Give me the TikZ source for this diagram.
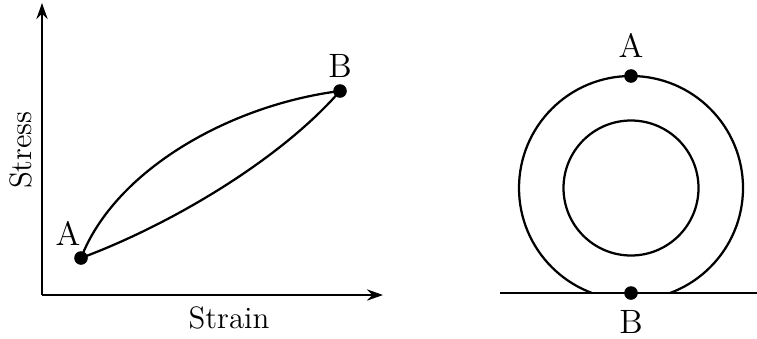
\documentclass[tikz,border=0pt]{standalone}
\usepackage{tikz}
\usetikzlibrary{
    arrows.meta,
    positioning
}

\begin{document}
\begin{tikzpicture}[
        x=0.0125cm,
        y=-0.0125cm,
        dot/.style={
            circle,
            fill,
            inner sep=0pt,
            minimum size=0.17cm
        },
        label/.style={
            font=\large
        },
        axislabel/.style={
            font=\fontsize{11}{13}\selectfont
        },
        axis/.style={
            -{Stealth[length=2mm, width=1.4mm]},
            thick
        },
        curve/.style={
            thick
        }
    ]

    \useasboundingbox (0,0) rectangle (757,338);

    % stress-strain loop
    \coordinate (origin) at (42,295);
    \coordinate (yend) at (42,3);
    \coordinate (xend) at (383,295);
    \draw[axis] (origin) -- (yend);
    \draw[axis] (origin) -- (xend);

    \node[axislabel, rotate=90] (stress) at (21,150) {Stress};
    \node[axislabel] (strain) at (229,318) {Strain};

    \node[dot] (loopA) at (81,258) {};
    \node[dot] (loopB) at (340,91) {};
    \node[label] (loopAlab) at (68,233) {A};
    \node[label] (loopBlab) at (340,66) {B};

    \draw[curve]
        (loopA.center)
        .. controls (115,170) and (230,105) ..
        (loopB.center);
    \draw[curve]
        (loopA.center)
        .. controls (170,225) and (280,160) ..
        (loopB.center);

    % rolling tyre
    \coordinate (hub) at (631,188);
    \coordinate (groundL) at (500,293);
    \coordinate (groundR) at (757,293);

    \begin{scope}
        \clip (500,0) rectangle (757,293);
        \draw[curve] (hub) circle[radius=112];
    \end{scope}
    \draw[curve] (hub) circle[radius=67.5];
    \draw[curve] (groundL) -- (groundR);

    \node[dot] (tyreA) at (631,76) {};
    \node[dot] (tyreB) at (631,293) {};
    \node[label] (tyreAlab) at (631,45) {A};
    \node[label] (tyreBlab) at (631,322) {B};

\end{tikzpicture}
\end{document}
